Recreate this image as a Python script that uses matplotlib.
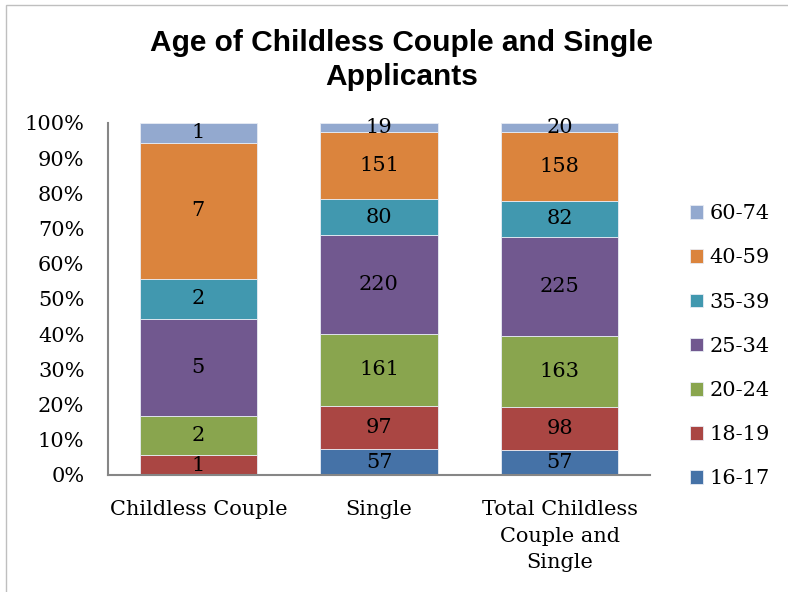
import os
import matplotlib
matplotlib.use("Agg")
import matplotlib.pyplot as plt
from matplotlib.patches import Rectangle
from matplotlib import font_manager as fm
import numpy as np

categories = ["Childless Couple", "Single", "Total Childless\nCouple and\nSingle"]
series = ["16-17", "18-19", "20-24", "25-34", "35-39", "40-59", "60-74"]
values = {
    "16-17": [0, 57, 57],
    "18-19": [1, 97, 98],
    "20-24": [2, 161, 163],
    "25-34": [5, 220, 225],
    "35-39": [2, 80, 82],
    "40-59": [7, 151, 158],
    "60-74": [1, 19, 20],
}
colors = {
    "16-17": "#4572A7",
    "18-19": "#AA4643",
    "20-24": "#89A54E",
    "25-34": "#71588F",
    "35-39": "#4198AF",
    "40-59": "#DB843D",
    "60-74": "#93A9CF",
}
yticks = [0, 10, 20, 30, 40, 50, 60, 70, 80, 90, 100]
title_lines = ["Age of Childless Couple and Single", "Applicants"]

# bold sans font for title
bold_path = None
for f in fm.findSystemFonts():
    if os.path.basename(f) == "LiberationSans-Bold.ttf":
        bold_path = f
        break
if bold_path:
    title_fp = fm.FontProperties(fname=bold_path, size=21.5)
else:
    title_fp = fm.FontProperties(family="DejaVu Sans", weight="bold", size=19)

serif = "DejaVu Serif"
FS = 15
fig = plt.figure(figsize=(7.88, 5.92), dpi=100)
W, H = 788, 592
ax = fig.add_axes([108 / W, 1 - 475 / H, (650 - 108) / W, (475 - 123) / H])

totals = np.sum([values[s] for s in series], axis=0)
x = np.arange(len(categories))
bottom = np.zeros(len(categories))
handles = []
for s in series:
    v = np.array(values[s], dtype=float)
    pct = v / totals * 100
    b = ax.bar(x, pct, 0.648, bottom=bottom, color=colors[s],
               edgecolor="#E8ECF4", linewidth=0.6, label=s)
    handles.append(b)
    for xi, p, bt, raw in zip(x, pct, bottom, values[s]):
        if raw > 0:
            ax.text(xi, bt + p / 2, str(raw), ha="center", va="center",
                    fontsize=FS, family=serif, color="black")
    bottom += pct

ax.set_xlim(-0.5, 2.5)
ax.set_ylim(0, 100)
ax.set_yticks(yticks)
ax.set_yticklabels([f"{t}%" for t in yticks], family=serif, fontsize=FS)
ax.set_xticks(x)
ax.set_xticklabels(categories, family=serif, fontsize=FS, linespacing=1.5)
ax.tick_params(axis="y", length=0, pad=17)
ax.tick_params(axis="x", length=0, pad=18)
for sp in ["top", "right"]:
    ax.spines[sp].set_visible(False)
for sp in ["left", "bottom"]:
    ax.spines[sp].set_color("#868686")
    ax.spines[sp].set_linewidth(1.5)

leg = fig.legend(handles[::-1], series[::-1], loc="upper left",
                 bbox_to_anchor=(684 / W, 1 - 198 / H), frameon=False,
                 prop={"family": serif, "size": FS},
                 handlelength=0.63, handleheight=0.63, handletextpad=0.3,
                 labelspacing=1.21, borderpad=0.3, borderaxespad=0)

fig.text(402 / W, 1 - 51 / H, title_lines[0], ha="center", va="baseline",
         fontproperties=title_fp)
fig.text(402 / W, 1 - 85 / H, title_lines[1], ha="center", va="baseline",
         fontproperties=title_fp)

fig.patches.append(Rectangle((6 / W, -0.1), 1.2, 1 - 5 / H + 0.1,
                             transform=fig.transFigure, fill=False,
                             edgecolor="#BFBFBF", linewidth=1.0))

fig.savefig("out.png", dpi=100)
